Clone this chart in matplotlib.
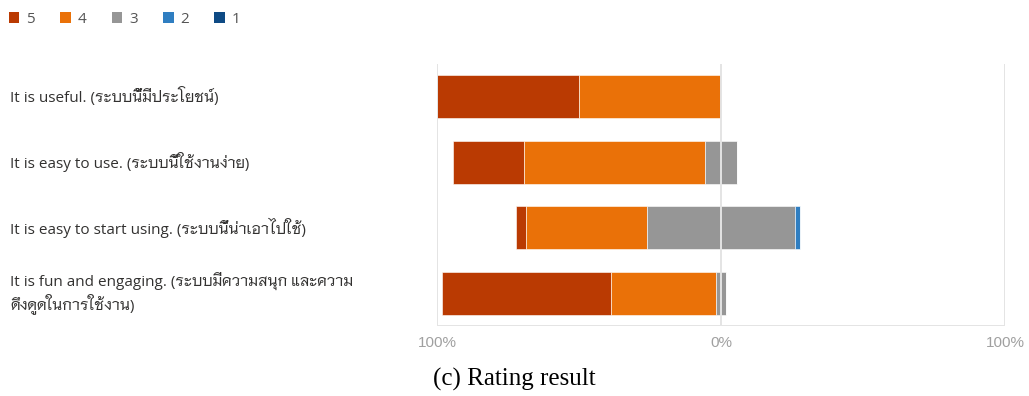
import numpy as np
import matplotlib
matplotlib.use("Agg")
import matplotlib.pyplot as plt
from matplotlib.patches import Patch
from matplotlib.transforms import blended_transform_factory

# survey statements (English + Thai)
questions = [
    "It is useful. (ระบบนี้มีประโยชน์)",
    "It is easy to use. (ระบบนี้ใช้งานง่าย)",
    "It is easy to start using. (ระบบนี้น่าเอาไปใช้)",
    "It is fun and engaging. (ระบบมีความสนุก และความ\nดึงดูดในการใช้งาน)",
]
ratings = ["5", "4", "3", "2", "1"]

# share of answers per rating (%), one list per rating level
pct_5 = [50.0, 25.0, 3.7, 59.3]
pct_4 = [50.0, 63.5, 42.6, 37.0]
pct_3 = [0.0, 11.5, 51.8, 3.7]
pct_2 = [0.0, 0.0, 1.9, 0.0]
pct_1 = [0.0, 0.0, 0.0, 0.0]

colors = ["#BA3A02", "#EA7108", "#969696", "#2F7EC1", "#0E4A84"]
tick_vals = [-100, 0, 100]
tick_labels = ["100%", "0%", "100%"]

label_font = ["Open Sans", "Niramit", "DejaVu Sans"]

fig = plt.figure(figsize=(10.29, 3.96), dpi=100)
ax = fig.add_axes([437 / 1029, 1 - 326 / 396, 568 / 1029, 262 / 396])

data = np.array([pct_5, pct_4, pct_3, pct_2, pct_1])
y = np.arange(len(questions))
# diverging layout: positive answers left of zero, neutral split across it
left = -(data[0] + data[1] + data[2] / 2)
for i, col in enumerate(colors):
    ax.barh(y, data[i], left=left, height=0.66, color=col,
            edgecolor="white", linewidth=0.4, zorder=2)
    left = left + data[i]

ax.set_xlim(-100, 100)
ax.set_ylim(len(questions) - 0.5, -0.5)
for v in tick_vals:
    ax.axvline(v, color="#E4E4E4", lw=1.4, zorder=3)
ax.axhline(len(questions) - 0.5, color="#E4E4E4", lw=1.4, zorder=3)

for s in ax.spines.values():
    s.set_visible(False)
ax.set_yticks([])
ax.set_xticks(tick_vals)
ax.set_xticklabels(tick_labels, color="#A0A0A0", fontsize=11, family="Liberation Sans")
ax.tick_params(axis="x", length=0, pad=7)

trans = blended_transform_factory(fig.transFigure, ax.transData)
for yi, q in zip(y, questions):
    ax.text(10 / 1029, yi, q, transform=trans, ha="left", va="center",
            fontsize=11, color="#323130", family=label_font, linespacing=1.2)

handles = [Patch(facecolor=c, edgecolor="none") for c in colors]
fig.legend(handles, ratings, loc="upper left", bbox_to_anchor=(-0.005, 1.005),
           ncol=5, frameon=False, handlelength=0.7, handleheight=0.7,
           handletextpad=0.45, columnspacing=1.65,
           prop={"family": "Open Sans", "size": 11}, labelcolor="#555555")

fig.text(0.5, 0.012, "(c) Rating result", ha="center", va="bottom",
         fontsize=18, family="Liberation Serif")

fig.savefig("out.png")
